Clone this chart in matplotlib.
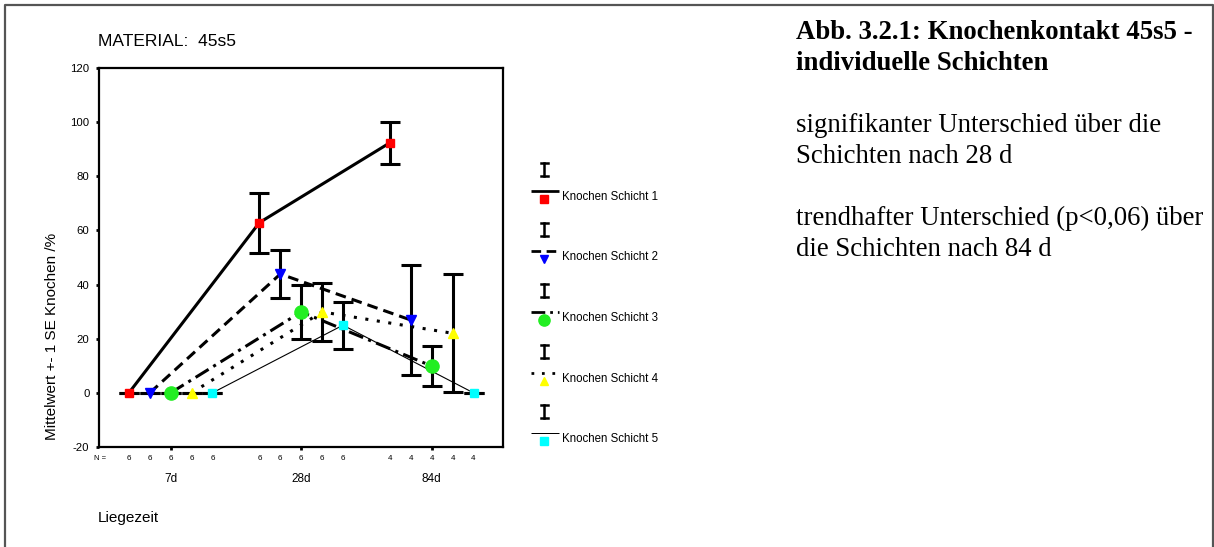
import matplotlib
matplotlib.use("Agg")
import matplotlib.pyplot as plt
import numpy as np

plt.rcParams['font.family'] = ['Liberation Sans', 'DejaVu Sans']

# ---- data ----
categories = ['7d', '28d', '84d']
series_names = ['Knochen Schicht 1', 'Knochen Schicht 2', 'Knochen Schicht 3',
                'Knochen Schicht 4', 'Knochen Schicht 5']
mean_s1 = [0.0, 62.9, 92.4]
mean_s2 = [0.0, 43.9, 26.9]
mean_s3 = [0.0, 29.9, 9.9]
mean_s4 = [0.0, 29.9, 22.0]
mean_s5 = [0.0, 25.0, 0.0]
se_s1 = [0.0, 11.1, 7.7]
se_s2 = [0.0, 8.7, 20.2]
se_s3 = [0.0, 10.1, 7.3]
se_s4 = [0.0, 10.6, 21.8]
se_s5 = [0.0, 8.7, 0.0]
n_s1 = [6, 6, 4]
n_s2 = [6, 6, 4]
n_s3 = [6, 6, 4]
n_s4 = [6, 6, 4]
n_s5 = [6, 6, 4]
y_ticks = [-20, 0, 20, 40, 60, 80, 100, 120]

means = [mean_s1, mean_s2, mean_s3, mean_s4, mean_s5]
ses = [se_s1, se_s2, se_s3, se_s4, se_s5]
ns = [n_s1, n_s2, n_s3, n_s4, n_s5]

# ---- styles ----
colors = ['#ff0000', '#0000ff', '#22ee22', '#ffff00', '#00ffff']
markers = ['s', 'v', 'o', '^', 's']
msizes = [6, 7.5, 9.5, 7.5, 6]
lstyles = ['-', (0, (3.5, 2)), (0, (5, 1.8, 1, 1.8)), (0, (1, 2.8)), '-']
lwidths = [2.2, 2.2, 2.2, 2.2, 0.8]
offsets = [-0.32, -0.16, 0.0, 0.16, 0.32]

W, H = 1214, 547
fig = plt.figure(figsize=(W / 100, H / 100), dpi=100)

ax = fig.add_axes([98.5 / W, 1 - 447 / H, (503 - 98.5) / W, (447 - 68) / H])
ax.set_xlim(-0.553, 2.546)
ax.set_ylim(-20, 120)

xc = np.arange(len(categories))
for i in range(5):
    x = xc + offsets[i]
    ax.plot(x, means[i], color='black', lw=lwidths[i], ls=lstyles[i], zorder=2,
            solid_capstyle='butt', dash_capstyle='butt')
for i in range(5):
    x = xc + offsets[i]
    ax.errorbar(x, means[i], yerr=ses[i], fmt='none', ecolor='black',
                elinewidth=2.2, capsize=7.5, capthick=2.2, zorder=3)
for i in range(5):
    x = xc + offsets[i]
    ax.plot(x, means[i], ls='none', marker=markers[i], ms=msizes[i],
            mfc=colors[i], mec=colors[i], zorder=4)

ax.set_yticks(y_ticks)
ax.set_yticklabels([str(v) for v in y_ticks], fontsize=8.2)
ax.set_xticks(xc)
ax.set_xticklabels(categories, fontsize=8.5)
ax.tick_params(axis='y', direction='out', length=2.5, width=2, pad=4)
ax.tick_params(axis='x', direction='out', length=2.5, width=2, pad=16)
for sp in ax.spines.values():
    sp.set_linewidth(1.6)

# N row
xtr = ax.get_xaxis_transform()
ax.text(-0.54, -0.031, 'N =', transform=xtr, ha='center', va='center', fontsize=5.5)
for i in range(5):
    for j in range(len(categories)):
        ax.text(xc[j] + offsets[i], -0.031, str(ns[i][j]), transform=xtr,
                ha='center', va='center', fontsize=5.8)

# ---- overlay in pixel coords ----
ov = fig.add_axes([0, 0, 1, 1], zorder=-1)
ov.set_xlim(0, W)
ov.set_ylim(H, 0)
ov.axis('off')

# frame
ov.plot([5, 5, 1212.5, 1212.5], [H, 5, 5, H], color='#555555', lw=1.6)

ov.text(98, 46, 'MATERIAL:  45s5', fontsize=12.5, ha='left', va='baseline')
ov.text(52.5, 336, 'Mittelwert +- 1 SE Knochen /%', rotation=90, fontsize=11,
        ha='center', va='center')
ov.text(97.5, 518, 'Liegezeit', fontsize=11, ha='left', va='center')

# legend
for i in range(5):
    ty = 196.7 + 60.6 * i
    ov.plot([544, 544], [ty - 34, ty - 21], color='black', lw=1.8)
    ov.plot([540.5, 547.5], [ty - 34, ty - 34], color='black', lw=1.8)
    ov.plot([540.5, 547.5], [ty - 21, ty - 21], color='black', lw=1.8)
    ov.plot([531, 559], [ty - 6, ty - 6], color='black', lw=lwidths[i] * 0.9,
            ls=lstyles[i], dash_capstyle='butt', solid_capstyle='butt')
    ov.plot([544.3], [ty + 2], ls='none', marker=markers[i], ms=msizes[i] * 0.85,
            mfc=colors[i], mec=colors[i])
    ov.text(562, ty, series_names[i], fontsize=8.3, ha='left', va='center')

# right side text
serif = ['Liberation Serif', 'DejaVu Serif']
ov.text(796, 39.3, 'Abb. 3.2.1: Knochenkontakt 45s5 -', family=serif,
        fontweight='bold', fontsize=19.3, ha='left', va='baseline')
ov.text(796, 70.3, 'individuelle Schichten', family=serif,
        fontweight='bold', fontsize=19.3, ha='left', va='baseline')
ov.text(796, 131.7, 'signifikanter Unterschied über die', family=serif,
        fontsize=19.3, ha='left', va='baseline')
ov.text(796, 162.7, 'Schichten nach 28 d', family=serif,
        fontsize=19.3, ha='left', va='baseline')
ov.text(796, 225, 'trendhafter Unterschied (p<0,06) über', family=serif,
        fontsize=19.3, ha='left', va='baseline')
ov.text(796, 256.5, 'die Schichten nach 84 d', family=serif,
        fontsize=19.3, ha='left', va='baseline')

fig.savefig('out.png', dpi=100)
